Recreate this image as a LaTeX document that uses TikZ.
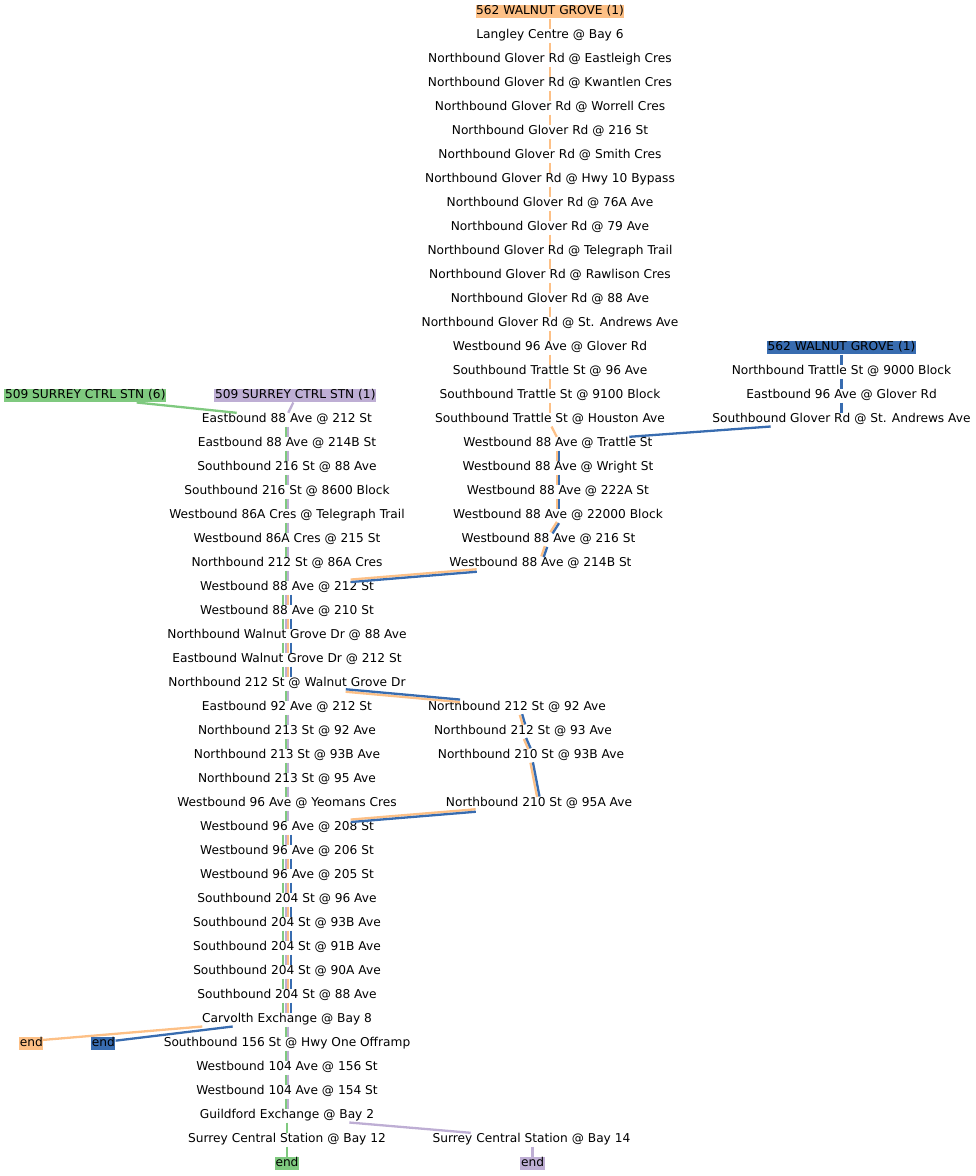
\documentclass[tikz,border=0pt]{standalone}
\usepackage{fontspec}
\setmainfont{DejaVu Sans}
\usetikzlibrary{calc}
\definecolor{cgreen}{HTML}{7FC97F}
\definecolor{cpurple}{HTML}{BEAED4}
\definecolor{corange}{HTML}{FDC086}
\definecolor{cblue}{HTML}{386CB0}
\newcommand\routeedge[3]{%
  \path #1 coordinate (mA) #2 coordinate (mB);
  \foreach \ro/\rc in {#3}{\draw[route,\rc] ($(mA)!\ro!90:(mB)$) -- ($(mB)!\ro!-90:(mA)$);}%
}
\begin{document}
\begin{tikzpicture}[x=1pt,y=-1pt,font=\fontsize{12.2}{14}\selectfont,
  lbl/.style={inner sep=0pt,text height=9.7pt,text depth=3.6pt,anchor=base},
  tag/.style={lbl,inner xsep=0.6pt,fill=#1},
  route/.style={line width=2.3pt}]
\useasboundingbox (0,0) rectangle (976,1176);
% column A
\node[tag=corange] (a0) at (550,14.7) {562 WALNUT GROVE (1)};
\foreach \r/\t in {1/Langley Centre @ Bay 6,2/Northbound Glover Rd @ Eastleigh Cres,3/Northbound Glover Rd @ Kwantlen Cres,4/Northbound Glover Rd @ Worrell Cres,5/Northbound Glover Rd @ 216 St,6/Northbound Glover Rd @ Smith Cres,7/Northbound Glover Rd @ Hwy 10 Bypass,8/Northbound Glover Rd @ 76A Ave,9/Northbound Glover Rd @ 79 Ave,10/Northbound Glover Rd @ Telegraph Trail,11/Northbound Glover Rd @ Rawlison Cres,12/Northbound Glover Rd @ 88 Ave,13/Northbound Glover Rd @ St. Andrews Ave,14/Westbound 96 Ave @ Glover Rd,15/Southbound Trattle St @ 96 Ave,16/Southbound Trattle St @ 9100 Block,17/Southbound Trattle St @ Houston Ave}
  {\node[lbl] (a\r) at (550,{24*\r+14.7}) {\t};}
\foreach \r/\t in {18/Westbound 88 Ave @ Trattle St,19/Westbound 88 Ave @ Wright St,20/Westbound 88 Ave @ 222A St,21/Westbound 88 Ave @ 22000 Block}
  {\node[lbl] (a\r) at (558,{24*\r+14.7}) {\t};}
\node[lbl] (a22) at (548.5,{24*22+14.7}) {Westbound 88 Ave @ 216 St};
\node[lbl] (a23) at (540.5,{24*23+14.7}) {Westbound 88 Ave @ 214B St};
% column B
\node[tag=cblue] (b14) at (841.5,{24*14+14.7}) {562 WALNUT GROVE (1)};
\node[lbl] (b15) at (841.5,{24*15+14.7}) {Northbound Trattle St @ 9000 Block};
\node[lbl] (b16) at (841.5,{24*16+14.7}) {Eastbound 96 Ave @ Glover Rd};
\node[lbl] (b17) at (841.5,{24*17+14.7}) {Southbound Glover Rd @ St. Andrews Ave};
% column C
\node[tag=cgreen] (g16) at (85.3,{24*16+14.7}) {509 SURREY CTRL STN (6)};
\node[tag=cpurple] (p16) at (295.3,{24*16+14.7}) {509 SURREY CTRL STN (1)};
\foreach \r/\t in {17/Eastbound 88 Ave @ 212 St,18/Eastbound 88 Ave @ 214B St,19/Southbound 216 St @ 88 Ave,20/Southbound 216 St @ 8600 Block,21/Westbound 86A Cres @ Telegraph Trail,22/Westbound 86A Cres @ 215 St,23/Northbound 212 St @ 86A Cres,24/Westbound 88 Ave @ 212 St,25/Westbound 88 Ave @ 210 St,26/Northbound Walnut Grove Dr @ 88 Ave,27/Eastbound Walnut Grove Dr @ 212 St,28/Northbound 212 St @ Walnut Grove Dr,29/Eastbound 92 Ave @ 212 St,30/Northbound 213 St @ 92 Ave,31/Northbound 213 St @ 93B Ave,32/Northbound 213 St @ 95 Ave,33/Westbound 96 Ave @ Yeomans Cres,34/Westbound 96 Ave @ 208 St,35/Westbound 96 Ave @ 206 St,36/Westbound 96 Ave @ 205 St,37/Southbound 204 St @ 96 Ave,38/Southbound 204 St @ 93B Ave,39/Southbound 204 St @ 91B Ave,40/Southbound 204 St @ 90A Ave,41/Southbound 204 St @ 88 Ave,42/Carvolth Exchange @ Bay 8,43/Southbound 156 St @ Hwy One Offramp,44/Westbound 104 Ave @ 156 St,45/Westbound 104 Ave @ 154 St,46/Guildford Exchange @ Bay 2,47/Surrey Central Station @ Bay 12}
  {\node[lbl] (c\r) at (287,{24*\r+14.7}) {\t};}
\node[tag=cgreen] (endG) at (287,{24*48+14.7}) {end};
% column D and others
\node[lbl] (d29) at (517,{24*29+14.7}) {Northbound 212 St @ 92 Ave};
\node[lbl] (d30) at (523,{24*30+14.7}) {Northbound 212 St @ 93 Ave};
\node[lbl] (d31) at (531,{24*31+14.7}) {Northbound 210 St @ 93B Ave};
\node[lbl] (d33) at (539,{24*33+14.7}) {Northbound 210 St @ 95A Ave};
\node[tag=corange] (endO) at (31.3,{24*43+14.7}) {end};
\node[tag=cblue] (endB) at (103.3,{24*43+14.7}) {end};
\node[lbl] (p47) at (531.5,{24*47+14.7}) {Surrey Central Station @ Bay 14};
\node[tag=cpurple] (endP) at (532.5,{24*48+14.7}) {end};
% orange route top
\foreach \i [count=\j from 1] in {0,...,16} {\draw[route,corange] (a\i.south) -- (a\j.north);}
\routeedge{([xshift=1.5pt]a17.south)}{([xshift=-1.25pt]a18.north)}{0pt/corange}
\foreach \i [count=\j from 19] in {18,19,20} {\routeedge{(a\i.south)}{(a\j.north)}{-1.25pt/corange,1.25pt/cblue}}
\routeedge{(a21.south)}{([xshift=3pt]a22.north)}{-1.25pt/corange,1.25pt/cblue}
\routeedge{([xshift=-2.5pt]a22.south)}{([xshift=2pt]a23.north)}{-1.25pt/corange,1.25pt/cblue}
\routeedge{([xshift=-63.8pt]a23.south)}{([xshift=63.7pt]c24.north)}{-1.25pt/corange,1.25pt/cblue}
% blue route top
\foreach \i [count=\j from 15] in {14,15,16} {\draw[route,cblue] (b\i.south) -- (b\j.north);}
\routeedge{([xshift=-70.8pt]b17.south)}{([xshift=71.3pt]a18.north)}{0pt/cblue}
% 509 starts
\routeedge{([xshift=51.4pt]g16.south)}{([xshift=-50.3pt]c17.north)}{0pt/cgreen}
\routeedge{([xshift=-2pt]p16.south)}{([xshift=1.25pt]c17.north)}{0pt/cpurple}
% main column
\foreach \i [count=\j from 18] in {17,...,23} {\routeedge{(c\i.south)}{(c\j.north)}{-1.25pt/cgreen,1.25pt/cpurple}}
\foreach \i [count=\j from 25] in {24,...,27} {\routeedge{(c\i.south)}{(c\j.north)}{-3.75pt/cgreen,-1.25pt/cpurple,1.25pt/corange,3.75pt/cblue}}
\foreach \i [count=\j from 29] in {28,...,33} {\routeedge{(c\i.south)}{(c\j.north)}{-1.25pt/cgreen,1.25pt/cpurple}}
\foreach \i [count=\j from 35] in {34,...,41} {\routeedge{(c\i.south)}{(c\j.north)}{-3.75pt/cgreen,-1.25pt/cpurple,1.25pt/corange,3.75pt/cblue}}
\foreach \i [count=\j from 43] in {42,...,45} {\routeedge{(c\i.south)}{(c\j.north)}{-1.25pt/cgreen,1.25pt/cpurple}}
\draw[route,cgreen] (c46.south) -- (c47.north);
\draw[route,cgreen] (c47.south) -- (endG.north);
% detour column D
\routeedge{([xshift=58.7pt]c28.south)}{([xshift=-57pt]d29.north)}{-1.25pt/corange,1.25pt/cblue}
\routeedge{([xshift=4pt]d29.south)}{([xshift=1pt]d30.north)}{-1.25pt/corange,1.25pt/cblue}
\routeedge{([xshift=2pt]d30.south)}{([xshift=-1.5pt]d31.north)}{-1.25pt/corange,1.25pt/cblue}
\routeedge{([xshift=0.7pt]d31.south)}{([xshift=-0.7pt]d33.north)}{-1.25pt/corange,1.25pt/cblue}
\routeedge{([xshift=-63.3pt]d33.south)}{([xshift=63.7pt]c34.north)}{-1.25pt/corange,1.25pt/cblue}
% ends
\draw[route,corange] ([xshift=-84.7pt]c42.south) -- ([shift={(-1,-3.7)}]endO.east);
\draw[route,cblue] ([xshift=-54.3pt]c42.south) -- ([shift={(0,-3)}]endB.east);
\draw[route,cpurple] ([xshift=62.3pt]c46.south) -- ([xshift=-60.8pt]p47.north);
\draw[route,cpurple] ([xshift=1pt]p47.south) -- (endP.north);
\end{tikzpicture}
\end{document}
